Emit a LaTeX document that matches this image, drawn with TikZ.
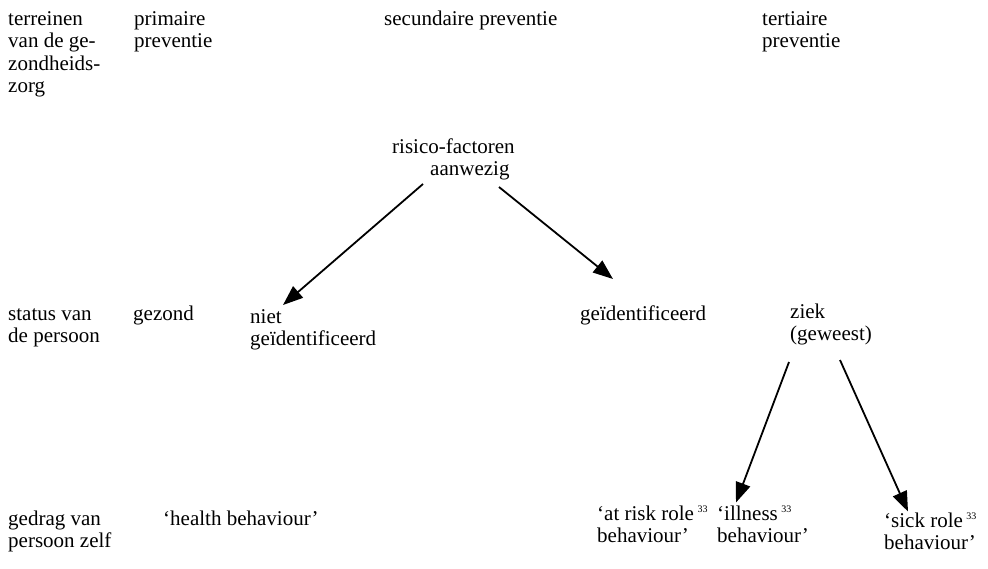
\documentclass[tikz,border=0pt]{standalone}
\usepackage{fontspec}
\setmainfont{Liberation Serif}
\usetikzlibrary{arrows.meta,calc}
\newcommand{\supthree}{\,{\fontsize{10}{10}\selectfont\raisebox{8pt}{33}}}
\tikzset{
  lbl/.style={anchor=base west, inner sep=0pt, align=left,
    font=\fontsize{21}{22.5}\selectfont},
  arr/.style={line width=1.8pt, -{Triangle[length=20pt,width=15pt]}}
}
\begin{document}
\begin{tikzpicture}[x=1pt,y=-1pt]
  \useasboundingbox (0,0) rectangle (988,568);
  % column headers (anchor = baseline of the last line)
  \node[lbl] (terr) at (8,92.5) {terreinen\\van de ge-\\zondheids-\\zorg};
  \node[lbl] (prim) at (134,47.5) {primaire\\preventie};
  \node[lbl] (sec) at (384,25) {secundaire preventie};
  \node[lbl] (tert) at (762,47.5) {tertiaire\\preventie};
  % risk factors
  \node[lbl] (risk) at (392,175.5) {risico-factoren\\\hspace*{38pt}aanwezig};
  % status row
  \node[lbl] (stat) at (8,342.5) {status van\\de persoon};
  \node[lbl] (gez) at (133,320) {gezond};
  \node[lbl] (niet) at (250,345.5) {niet\\geïdentificeerd};
  \node[lbl] (geid) at (580,320) {geïdentificeerd};
  \node[lbl] (ziek) at (790,340.5) {ziek\\(geweest)};
  % behaviour row
  \node[lbl] (gedr) at (8,547.5) {gedrag van\\persoon zelf};
  \node[lbl] (health) at (163,525) {‘health behaviour’};
  \node[lbl] (atrisk) at (597,542.5) {‘at risk role\supthree\\behaviour’};
  \node[lbl] (ill) at (717,542.5) {‘illness\supthree\\behaviour’};
  \node[lbl] (sick) at (884,549.5) {‘sick role\supthree\\behaviour’};
  % arrows
  \draw[arr] ($(risk.base west)+(31,8.5)$) -- ($(niet.base west)+(33,-40.5)$);
  \draw[arr] ($(risk.base west)+(107,11.5)$) -- ($(geid.base west)+(33,-41)$);
  \draw[arr] ($(ziek.base west)+(-1,21.5)$) -- ($(ill.base west)+(19,-40)$);
  \draw[arr] ($(ziek.base west)+(50,19.5)$) -- ($(sick.base west)+(24,-38)$);
\end{tikzpicture}
\end{document}
